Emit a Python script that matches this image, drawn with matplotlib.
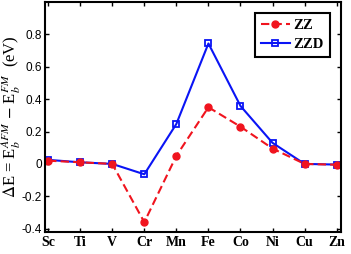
import matplotlib
matplotlib.use("Agg")
import matplotlib.pyplot as plt

elements = ["Sc", "Ti", "V", "Cr", "Mn", "Fe", "Co", "Ni", "Cu", "Zn"]
zz = [0.02, 0.01, 0.0, -0.36, 0.05, 0.35, 0.23, 0.095, 0.0, -0.005]
zzd = [0.025, 0.01, 0.0, -0.064, 0.247, 0.744, 0.358, 0.13, 0.0, -0.004]
yticks = [-0.4, -0.2, 0, 0.2, 0.4, 0.6, 0.8]
yticklabels = ["-0.4", "-0.2", "0", "0.2", "0.4", "0.6", "0.8"]

plt.rcParams['mathtext.fontset'] = 'stix'

fig = plt.figure(figsize=(3.51, 2.54), dpi=100)
ax = fig.add_axes([0.128, 0.087, 0.843, 0.905])

x = list(range(1, len(elements) + 1))
l2, = ax.plot(x, zzd, color='#0a14f5', lw=1.5, ls='-', marker='s', ms=5,
              mfc='none', mec='#0a14f5', mew=1.3, label='ZZD')
l1, = ax.plot(x, zz, color='#f0141e', lw=1.5, ls=(0, (4, 2)), marker='o', ms=5,
              mfc='#f0141e', mec='#f0141e', label='ZZ')

ax.set_xlim(0.9, 10.13)
ax.set_ylim(-0.42, 1.0)
ax.set_xticks(x)
ax.set_xticklabels(elements, fontfamily='Liberation Serif', fontweight='bold', fontsize=10)
ax.set_yticks(yticks)
ax.set_yticklabels(yticklabels, fontfamily='Liberation Sans', fontsize=8.5)
ax.tick_params(direction='in', top=True, right=True, length=3, width=1, pad=2)
ax.tick_params(axis='x', pad=3)
for s in ax.spines.values():
    s.set_linewidth(1.5)

ax.set_ylabel(r'$\Delta$E = E$_b^{AFM}$ $-$ E$_b^{FM}$  (eV)',
              fontfamily='Liberation Serif', fontsize=12)
ax.yaxis.set_label_coords(-0.075, 0.5)

leg = ax.legend(handles=[l1, l2], loc='upper right', bbox_to_anchor=(0.978, 0.97),
                prop={'family': 'Liberation Serif', 'weight': 'bold', 'size': 10.5},
                frameon=True, fancybox=False, edgecolor='black', framealpha=1,
                handlelength=2.0, borderpad=0.4, labelspacing=0.4, handletextpad=0.25,
                borderaxespad=0.3)
leg.get_frame().set_linewidth(1.5)

fig.savefig("out.png", dpi=100)
